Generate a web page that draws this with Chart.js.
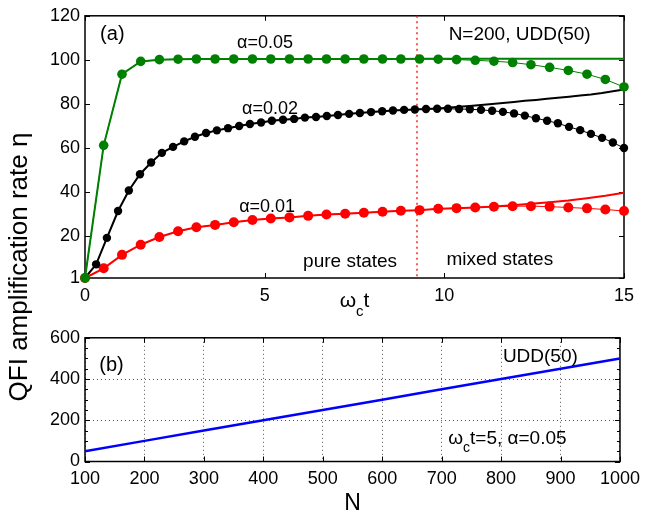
<!DOCTYPE html>
<html>
<head>
<meta charset="utf-8">
<script src="https://cdn.jsdelivr.net/npm/chart.js@4/dist/chart.umd.min.js"></script>
<style>
    body { margin: 0; background: #fff; }
    #page { position: relative; width: 647px; height: 516px; overflow: hidden; }
    #boxA { position: absolute; left: 0; top: 0; width: 647px; height: 322px; }
    #boxB { position: absolute; left: 0; top: 322px; width: 647px; height: 194px; }
    #yTitle {
        position: absolute; left: -132px; top: 254px; width: 300px; height: 26px;
        line-height: 26px; text-align: center; transform: rotate(-90deg);
        font-family: "Liberation Sans", Arial, sans-serif; font-size: 26px; color: #000;
        white-space: nowrap;
    }
</style>
</head>
<body>
<div id="page">
    <div id="boxA"><canvas id="chartA"></canvas></div>
    <div id="boxB"><canvas id="chartB"></canvas></div>
    <div id="yTitle">QFI amplification rate η</div>
</div>
<script>
const FONT = '"Liberation Sans", Arial, sans-serif';

// ---- panel (a) ----
const timeCoarse = [0, 0.52, 1.03, 1.55, 2.07, 2.59, 3.10, 3.62, 4.14, 4.66,
    5.17, 5.69, 6.21, 6.72, 7.24, 7.76, 8.28, 8.79, 9.31, 9.83,
    10.34, 10.86, 11.38, 11.90, 12.41, 12.93, 13.45, 13.97, 14.48, 15];

const timeFine = [0, 0.31, 0.61, 0.92, 1.22, 1.53, 1.84, 2.14, 2.45, 2.76,
    3.06, 3.37, 3.67, 3.98, 4.29, 4.59, 4.90, 5.20, 5.51, 5.82,
    6.12, 6.43, 6.73, 7.04, 7.35, 7.65, 7.96, 8.27, 8.57, 8.88,
    9.18, 9.49, 9.80, 10.10, 10.41, 10.71, 11.02, 11.33, 11.63, 11.94,
    12.24, 12.55, 12.86, 13.16, 13.47, 13.78, 14.08, 14.39, 14.69, 15];

const eta005Dots = [1, 61.2, 93.5, 99.3, 100.1, 100.3, 100.4, 100.4, 100.4, 100.4,
    100.4, 100.4, 100.4, 100.4, 100.4, 100.4, 100.4, 100.4, 100.4, 100.3,
    100.1, 99.8, 99.4, 98.8, 97.8, 96.6, 95.2, 93.5, 91.1, 87.7];
const eta005Line = [1, 61.2, 93.5, 99.3, 100.1, 100.3, 100.4, 100.4, 100.4, 100.4,
    100.4, 100.4, 100.4, 100.4, 100.4, 100.4, 100.4, 100.4, 100.5, 100.5,
    100.5, 100.5, 100.5, 100.5, 100.5, 100.5, 100.5, 100.5, 100.5, 100.5];

const eta002Dots = [1, 7.2, 19.2, 31.4, 40.7, 48.1, 53.4, 57.8, 60.5, 63.0,
    65.1, 66.8, 68.0, 69.0, 70.0, 70.9, 71.6, 72.4, 72.8, 73.2,
    73.8, 74.1, 74.5, 75.0, 75.5, 75.9, 76.3, 76.7, 77.0, 77.3,
    77.5, 77.7, 77.8, 77.8, 77.7, 77.6, 77.3, 76.9, 76.4, 75.7,
    74.7, 73.5, 72.4, 71.2, 69.6, 68.1, 66.4, 64.6, 62.5, 60.0];
const eta002Line = [1, 7.2, 19.2, 31.4, 40.7, 48.1, 53.4, 57.8, 60.5, 63.0,
    65.1, 66.8, 68.0, 69.0, 70.0, 70.9, 71.6, 72.4, 72.8, 73.2,
    73.8, 74.1, 74.5, 75.0, 75.5, 75.9, 76.3, 76.7, 77.0, 77.3,
    77.5, 77.7, 77.9, 78.3, 78.7, 79.1, 79.5, 80.0, 80.4, 80.9,
    81.4, 81.8, 82.3, 82.8, 83.3, 83.8, 84.3, 85.0, 85.8, 86.6];

const eta001Dots = [1, 5.4, 11.5, 16.1, 19.6, 22.2, 24.0, 25.1, 26.3, 27.3,
    28.0, 28.5, 29.2, 29.8, 30.2, 30.6, 31.1, 31.5, 31.8, 32.4,
    32.7, 33.0, 33.3, 33.6, 33.6, 33.4, 33.0, 32.6, 32.1, 31.4];
const eta001Line = [1, 5.4, 11.5, 16.1, 19.6, 22.2, 24.0, 25.1, 26.3, 27.3,
    28.0, 28.5, 29.2, 29.8, 30.2, 30.6, 31.1, 31.5, 31.8, 32.4,
    32.7, 33.0, 33.4, 34.0, 34.7, 35.4, 36.2, 37.2, 38.3, 39.7];

const ticksTime = [0, 5, 10, 15];
const ticksEtaA = [1, 20, 40, 60, 80, 100, 120];
const boundaryTime = 9.25;

// ---- panel (b) ----
const sizeN = [100, 200, 300, 400, 500, 600, 700, 800, 900, 1000];
const etaN = [50, 100, 150, 200, 250, 300, 350, 400, 450, 500];
const ticksN = [100, 200, 300, 400, 500, 600, 700, 800, 900, 1000];
const ticksEtaB = [0, 200, 400, 600];
const minorEtaB = [50, 100, 150, 250, 300, 350, 450, 500, 550];

const GREEN = '#008000';
const RED = '#ff0000';
const BLACK = '#000000';
const BLUE = '#0000ff';

function pts(xs, ys)
{
    return xs.map((x, i) => ({ x: x, y: ys[i] }));
}

function fixTicks(values)
{
    return scale => { scale.ticks = values.map(v => ({ value: v })); };
}

function plainLabel(value)
{
    return String(value);
}

// text runs with optional subscript pieces, e.g. ω_c t
function drawRuns(ctx, runs, x, y, size, align)
{
    const subSize = Math.round(size * 0.72);
    let total = 0;

    runs.forEach(r => {
        ctx.font = `${r.sub ? subSize : size}px ${FONT}`;
        r.w = ctx.measureText(r.t).width;
        total += r.w;
    });

    let cx = align === 'center' ? x - total / 2 : x;

    ctx.textAlign = 'left';
    ctx.textBaseline = 'alphabetic';
    ctx.fillStyle = '#000';

    runs.forEach(r => {
        ctx.font = `${r.sub ? subSize : size}px ${FONT}`;
        ctx.fillText(r.t, cx, r.sub ? y + size * 0.45 : y);
        cx += r.w;
    });
}

function framePlugin(minorY)
{
    return {
        id: 'frame',
        beforeDatasetsDraw(chart)
        {
            const { ctx, chartArea: a, scales: { x, y } } = chart;

            ctx.save();
            ctx.strokeStyle = '#000';
            ctx.lineWidth = 1;
            ctx.beginPath();

            x.ticks.forEach(t => {
                const px = Math.round(x.getPixelForValue(t.value)) + 0.5;
                ctx.moveTo(px, a.bottom); ctx.lineTo(px, a.bottom - 5);
                ctx.moveTo(px, a.top); ctx.lineTo(px, a.top + 5);
            });

            y.ticks.forEach(t => {
                const py = Math.round(y.getPixelForValue(t.value)) + 0.5;
                ctx.moveTo(a.left, py); ctx.lineTo(a.left + 5, py);
                ctx.moveTo(a.right, py); ctx.lineTo(a.right - 5, py);
            });

            minorY.forEach(v => {
                const py = Math.round(y.getPixelForValue(v)) + 0.5;
                ctx.moveTo(a.left, py); ctx.lineTo(a.left + 3, py);
                ctx.moveTo(a.right, py); ctx.lineTo(a.right - 3, py);
            });

            ctx.stroke();

            ctx.lineWidth = 1.5;
            ctx.strokeRect(a.left, a.top, a.right - a.left, a.bottom - a.top);
            ctx.restore();
        }
    };
}

// ---- chart (a) ----
const notesA = [
    { text: '(a)', x: 0.42, y: 111.5, size: 20 },
    { text: 'α=0.05', x: 4.23, y: 107.8, size: 18 },
    { text: 'α=0.02', x: 4.37, y: 77.6, size: 18 },
    { text: 'α=0.01', x: 4.29, y: 33.0, size: 18 },
    { text: 'N=200, UDD(50)', x: 10.12, y: 111.3, size: 19 },
    { text: 'pure states', x: 6.07, y: 8.3, size: 19 },
    { text: 'mixed states', x: 10.06, y: 9.5, size: 19 }
];

const chartAPlugin = {
    id: 'panelA',
    beforeDatasetsDraw(chart)
    {
        const { ctx, chartArea: a, scales: { x } } = chart;
        const px = Math.round(x.getPixelForValue(boundaryTime));

        ctx.save();
        ctx.strokeStyle = '#ff2020';
        ctx.lineWidth = 1.5;
        ctx.setLineDash([2, 3.5]);
        ctx.beginPath();
        ctx.moveTo(px, a.top);
        ctx.lineTo(px, a.bottom);
        ctx.stroke();
        ctx.restore();
    },
    afterDraw(chart)
    {
        const { ctx, chartArea: a, scales: { x, y } } = chart;

        ctx.save();
        ctx.fillStyle = '#000';
        ctx.textAlign = 'left';
        ctx.textBaseline = 'middle';

        notesA.forEach(n => {
            ctx.font = `${n.size}px ${FONT}`;
            ctx.fillText(n.text, x.getPixelForValue(n.x), y.getPixelForValue(n.y));
        });

        drawRuns(ctx, [{ t: 'ω' }, { t: 'c', sub: true }, { t: 't' }], (a.left + a.right) / 2, 307, 21, 'center');
        ctx.restore();
    }
};

new Chart(document.getElementById('chartA'), {
    type: 'line',
    data: {
        datasets: [
            { data: pts(timeCoarse, eta005Dots), borderColor: GREEN, backgroundColor: GREEN, borderWidth: 1, pointRadius: 4.8, pointBorderWidth: 0, order: 1 },
            { data: pts(timeCoarse, eta005Line), borderColor: GREEN, borderWidth: 2, pointRadius: 0, order: 4 },
            { data: pts(timeFine, eta002Dots), borderColor: BLACK, backgroundColor: BLACK, borderWidth: 1, pointRadius: 4.2, pointBorderWidth: 0, order: 2 },
            { data: pts(timeFine, eta002Line), borderColor: BLACK, borderWidth: 2, pointRadius: 0, order: 5 },
            { data: pts(timeCoarse, eta001Dots), borderColor: RED, backgroundColor: RED, borderWidth: 1, pointRadius: 5, pointBorderWidth: 0, order: 3 },
            { data: pts(timeCoarse, eta001Line), borderColor: RED, borderWidth: 2, pointRadius: 0, order: 6 }
        ]
    },
    options: {
        responsive: true,
        maintainAspectRatio: false,
        animation: false,
        events: [],
        clip: false,
        elements: { line: { tension: 0 } },
        layout: { padding: { top: 5, right: 23, left: 0, bottom: 0 } },
        plugins: { legend: { display: false }, tooltip: { enabled: false } },
        scales: {
            x: {
                type: 'linear', min: 0, max: 15,
                afterBuildTicks: fixTicks(ticksTime),
                afterFit: s => { s.height = 44; },
                grid: { display: false, drawTicks: false },
                border: { display: false },
                ticks: { color: '#000', font: { family: FONT, size: 18 }, padding: 7, maxRotation: 0, callback: plainLabel }
            },
            y: {
                type: 'linear', min: 1, max: 120,
                afterBuildTicks: fixTicks(ticksEtaA),
                afterFit: s => { s.width = 85; },
                grid: { display: false, drawTicks: false },
                border: { display: false },
                ticks: { color: '#000', font: { family: FONT, size: 18 }, padding: 5, callback: plainLabel }
            }
        }
    },
    plugins: [framePlugin([]), chartAPlugin]
});

// ---- chart (b) ----
const notesB = [
    { text: '(b)', x: 124, y: 465, size: 20 },
    { text: 'UDD(50)', x: 803, y: 507, size: 19 }
];

const chartBPlugin = {
    id: 'panelB',
    afterDraw(chart)
    {
        const { ctx, chartArea: a, scales: { x, y } } = chart;

        ctx.save();
        ctx.fillStyle = '#000';
        ctx.textAlign = 'left';
        ctx.textBaseline = 'middle';

        notesB.forEach(n => {
            ctx.font = `${n.size}px ${FONT}`;
            ctx.fillText(n.text, x.getPixelForValue(n.x), y.getPixelForValue(n.y));
        });

        drawRuns(ctx, [{ t: 'ω' }, { t: 'c', sub: true }, { t: 't=5, α=0.05' }],
            x.getPixelForValue(711), y.getPixelForValue(121) + 7, 19, 'left');

        ctx.font = `23px ${FONT}`;
        ctx.textAlign = 'center';
        ctx.textBaseline = 'alphabetic';
        ctx.fillText('N', (a.left + a.right) / 2, 188);
        ctx.restore();
    }
};

new Chart(document.getElementById('chartB'), {
    type: 'line',
    data: {
        datasets: [
            { data: pts(sizeN, etaN), borderColor: BLUE, borderWidth: 2.5, pointRadius: 0 }
        ]
    },
    options: {
        responsive: true,
        maintainAspectRatio: false,
        animation: false,
        events: [],
        clip: false,
        elements: { line: { tension: 0 } },
        layout: { padding: { top: 10, right: 23, left: 0, bottom: 0 } },
        plugins: { legend: { display: false }, tooltip: { enabled: false } },
        scales: {
            x: {
                type: 'linear', min: 100, max: 1000,
                afterBuildTicks: fixTicks(ticksN),
                afterFit: s => { s.height = 54.5; },
                grid: { color: '#555', lineWidth: 1, drawTicks: false, borderDash: [1, 3] },
                border: { display: false, dash: [1, 3] },
                ticks: { color: '#000', font: { family: FONT, size: 18 }, padding: 7, maxRotation: 0, callback: plainLabel }
            },
            y: {
                type: 'linear', min: 0, max: 600,
                afterBuildTicks: fixTicks(ticksEtaB),
                afterFit: s => { s.width = 85; },
                grid: { color: '#555', lineWidth: 1, drawTicks: false, borderDash: [1, 3] },
                border: { display: false, dash: [1, 3] },
                ticks: { color: '#000', font: { family: FONT, size: 18 }, padding: 5, callback: plainLabel }
            }
        }
    },
    plugins: [framePlugin(minorEtaB), chartBPlugin]
});
</script>
</body>
</html>
